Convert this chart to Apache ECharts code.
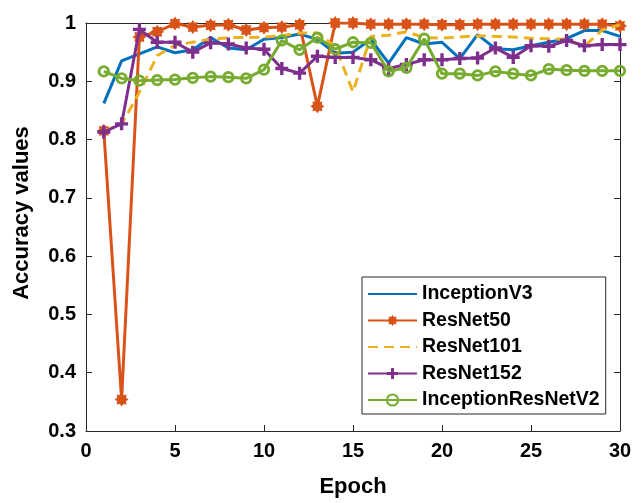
<!DOCTYPE html>
<html>
<head>
<meta charset="utf-8">
<script src="https://cdn.jsdelivr.net/npm/echarts@6/dist/echarts.min.js"></script>
<style>
  html, body { margin: 0; padding: 0; background: #fff; }
  #chart { width: 644px; height: 503px; }
</style>
</head>
<body>
<div id="chart"></div>
<script>
// Training epochs
const epochs = [1, 2, 3, 4, 5, 6, 7, 8, 9, 10, 11, 12, 13, 14, 15,
                16, 17, 18, 19, 20, 21, 22, 23, 24, 25, 26, 27, 28, 29, 30];

// Accuracy per epoch for each network
const inceptionV3 = [0.862, 0.935, 0.947, 0.959, 0.949, 0.954, 0.975, 0.957, 0.954, 0.972,
                     0.975, 0.981, 0.972, 0.948, 0.950, 0.972, 0.931, 0.975, 0.964, 0.967,
                     0.939, 0.980, 0.956, 0.954, 0.961, 0.967, 0.973, 0.987, 0.987, 0.977];
const resNet50 = [0.815, 0.354, 0.976, 0.985, 0.999, 0.993, 0.996, 0.997, 0.988, 0.992,
                  0.993, 0.997, 0.857, 1.000, 1.000, 0.998, 0.998, 0.998, 0.998, 0.997,
                  0.997, 0.998, 0.998, 0.998, 0.998, 0.998, 0.998, 0.998, 0.998, 0.995];
const resNet101 = [0.815, 0.826, 0.881, 0.944, 0.962, 0.967, 0.972, 0.975, 0.975, 0.976,
                   0.978, 0.983, 0.983, 0.960, 0.882, 0.977, 0.979, 0.985, 0.975, 0.974,
                   0.976, 0.978, 0.977, 0.976, 0.974, 0.973, 0.972, 0.960, 0.988, 0.997];
const resNet152 = [0.813, 0.827, 0.989, 0.967, 0.967, 0.950, 0.966, 0.964, 0.957, 0.955,
                   0.922, 0.914, 0.943, 0.941, 0.941, 0.937, 0.922, 0.929, 0.937, 0.937,
                   0.939, 0.940, 0.957, 0.941, 0.961, 0.960, 0.970, 0.961, 0.963, 0.963];
const inceptionResNetV2 = [0.917, 0.905, 0.901, 0.902, 0.903, 0.906, 0.908, 0.907, 0.905, 0.920,
                           0.970, 0.954, 0.975, 0.955, 0.967, 0.966, 0.917, 0.923, 0.973, 0.913,
                           0.913, 0.910, 0.917, 0.913, 0.910, 0.921, 0.919, 0.918, 0.918, 0.918];

const seriesNames = ['InceptionV3', 'ResNet50', 'ResNet101', 'ResNet152', 'InceptionResNetV2'];
const seriesValues = [inceptionV3, resNet50, resNet101, resNet152, inceptionResNetV2];

// Axis ranges and tick steps
const xRange = [0, 30], xStep = 5;
const yRange = [0.3, 1], yStep = 0.1;

// Marker shapes
function asteriskPath(points, rOut, rIn) {
  let d = '';
  for (let k = 0; k < 2 * points; k++) {
    const a = Math.PI * k / points - Math.PI / 2;
    const r = k % 2 ? rIn : rOut;
    d += (k ? 'L' : 'M') + (r * Math.cos(a)).toFixed(3) + ',' + (r * Math.sin(a)).toFixed(3);
  }
  return 'path://' + d + 'Z';
}
const asterisk = asteriskPath(8, 1, 0.68);
const plus = 'path://M-0.26,-1H0.26V-0.26H1V0.26H0.26V1H-0.26V0.26H-1V-0.26H-0.26Z';

const FONT = "'Liberation Sans', Arial, Helvetica, sans-serif";
const AXIS_COLOR = '#262626';
const LINE_WIDTH = 3;

const styles = [
  { color: '#0072BD', symbol: 'none', symbolSize: 0, type: 'solid' },
  { color: '#D95319', symbol: asterisk, symbolSize: 14, type: 'solid' },
  { color: '#EDB120', symbol: 'none', symbolSize: 0, type: [10, 6] },
  { color: '#7E2F8E', symbol: plus, symbolSize: 13, type: 'solid' },
  { color: '#77AC30', symbol: 'circle', symbolSize: 9.5, type: 'solid', hollow: true }
];

const series = seriesNames.map((name, i) => {
  const st = styles[i];
  let itemStyle;
  if (st.hollow) {
    itemStyle = { color: 'rgba(255,255,255,0)', borderColor: st.color, borderWidth: 2.8 };
  } else if (st.symbol === 'none') {
    // plain line: keep the legend icon to a bare line
    itemStyle = { color: st.color, opacity: 0 };
  } else {
    itemStyle = { color: st.color, borderWidth: 0 };
  }
  return {
    name: name,
    type: 'line',
    xAxisIndex: 0,
    yAxisIndex: 0,
    z: 2 + i,
    data: epochs.map((e, j) => [e, seriesValues[i][j]]),
    symbol: st.symbol,
    symbolSize: st.symbolSize,
    showSymbol: st.symbol !== 'none',
    lineStyle: { color: st.color, width: LINE_WIDTH, type: st.type, cap: 'butt', opacity: 1 },
    itemStyle: itemStyle,
    emphasis: { disabled: true },
    animation: false
  };
});

const tickLabel = { color: '#000', fontFamily: FONT, fontWeight: 'bold', fontSize: 20 };
const boxLine = { show: true, onZero: false, lineStyle: { color: AXIS_COLOR, width: 1 } };
const innerTick = { show: true, inside: true, length: 6, lineStyle: { color: AXIS_COLOR, width: 1 } };

const option = {
  backgroundColor: '#fff',
  animation: false,
  grid: { left: 86, right: 24, top: 23, bottom: 72 },
  legend: {
    orient: 'vertical',
    left: 362,
    top: 277,
    padding: [7, 6, 4, 5],
    itemGap: 6.5,
    itemWidth: 49,
    itemHeight: 14,
    borderColor: AXIS_COLOR,
    borderWidth: 1,
    backgroundColor: '#fff',
    borderRadius: 0,
    selectedMode: false,
    textStyle: { color: '#000', fontFamily: FONT, fontWeight: 'bold', fontSize: 19.5, lineHeight: 20 },
    data: seriesNames
  },
  xAxis: [
    {
      type: 'value', min: xRange[0], max: xRange[1], interval: xStep, position: 'bottom',
      axisLine: boxLine, axisTick: innerTick, splitLine: { show: false },
      axisLabel: Object.assign({ margin: 10 }, tickLabel),
      name: 'Epoch', nameLocation: 'middle', nameGap: 45,
      nameTextStyle: { color: '#000', fontFamily: FONT, fontWeight: 'bold', fontSize: 22 }
    },
    {
      type: 'value', min: xRange[0], max: xRange[1], interval: xStep, position: 'top',
      axisLine: boxLine, axisTick: innerTick, splitLine: { show: false },
      axisLabel: { show: false }
    }
  ],
  yAxis: [
    {
      type: 'value', min: yRange[0], max: yRange[1], interval: yStep, position: 'left',
      axisLine: boxLine, axisTick: innerTick, splitLine: { show: false },
      axisLabel: Object.assign({ margin: 10 }, tickLabel),
      name: 'Accuracy values', nameLocation: 'middle', nameGap: 53, nameRotate: 90,
      nameTextStyle: { color: '#000', fontFamily: FONT, fontWeight: 'bold', fontSize: 22,
                       padding: [0, 0, 0, 28] }
    },
    {
      type: 'value', min: yRange[0], max: yRange[1], interval: yStep, position: 'right',
      axisLine: boxLine, axisTick: innerTick, splitLine: { show: false },
      axisLabel: { show: false }
    }
  ],
  series: series
};

const chart = echarts.init(document.getElementById('chart'), null, { renderer: 'canvas' });
chart.setOption(option);
</script>
</body>
</html>
